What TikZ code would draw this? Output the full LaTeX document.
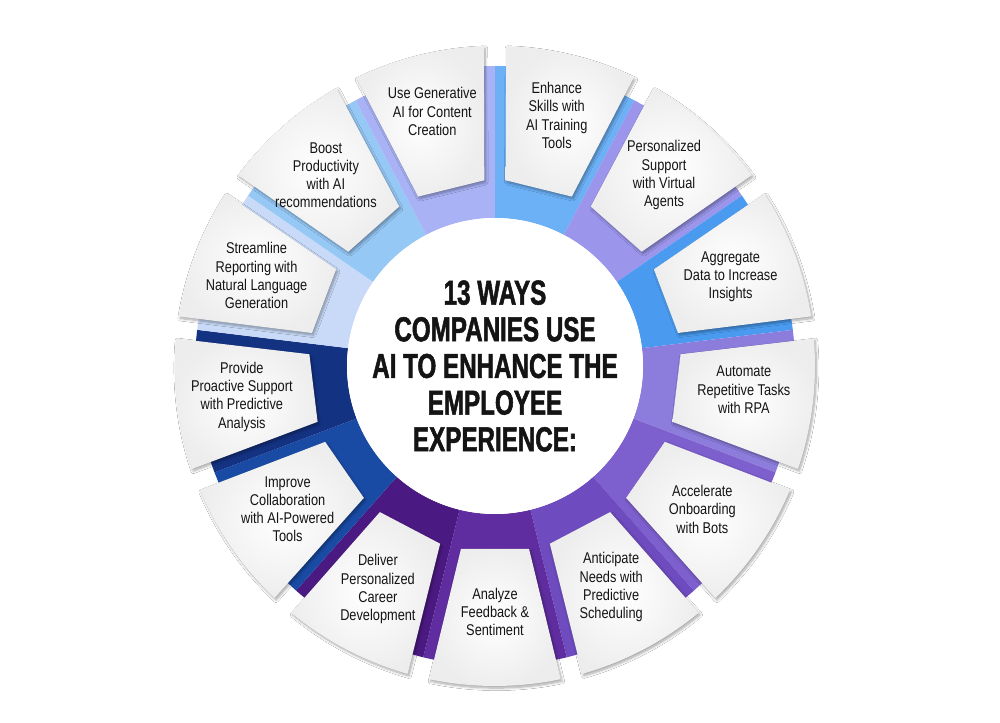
\documentclass[tikz,border=0pt]{standalone}
\usepackage{fontspec}
\setmainfont{Liberation Sans}[FakeStretch=0.82]
\newfontfamily\titlefont{Liberation Sans}[FakeStretch=0.7, BoldFeatures={FakeBold=1.5}]
\usetikzlibrary{shadows, shadows.blur, positioning}

\definecolor{cEnhance}{HTML}{6CB0F5}
\definecolor{cPersonal}{HTML}{9B96EB}
\definecolor{cAggregate}{HTML}{4A9BF0}
\definecolor{cAutomate}{HTML}{8C7DDC}
\definecolor{cOnboard}{HTML}{7D5FCD}
\definecolor{cAnticipate}{HTML}{6E4BBE}
\definecolor{cAnalyze}{HTML}{5F2DA0}
\definecolor{cCareer}{HTML}{4B1982}
\definecolor{cCollab}{HTML}{194BA5}
\definecolor{cProactive}{HTML}{143282}
\definecolor{cStreamline}{HTML}{C8DAF7}
\definecolor{cBoost}{HTML}{96C8F5}
\definecolor{cGenerative}{HTML}{A8B2F5}

\tikzset{
  card/.style={inner color=white, outer color=black!7,
    blur shadow={shadow xshift=1.2pt, shadow yshift=-1.8pt, shadow blur steps=8, shadow opacity=35}},
  cardtext/.style={align=center, font=\fontsize{13.3}{15.6}\selectfont, text=black!92},
  titletext/.style={align=center, font=\titlefont\bfseries\fontsize{29.5}{31.3}\selectfont, text=black!92}
}

\begin{document}
\begin{tikzpicture}[x=0.3mm, y=0.3mm]
        \fill[white] (-495,-357) rectangle (505,366);
        \useasboundingbox (-495,-357) rectangle (505,366);
        % coloured ring
        \foreach \col [count=\i from 0] in {cEnhance,cPersonal,cAggregate,cAutomate,cOnboard,cAnticipate,cAnalyze,cCareer,cCollab,cProactive,cStreamline,cBoost,cGenerative} {
          \pgfmathsetmacro\a{90-\i*360/13}
          \pgfmathsetmacro\b{\a-360/13}
          \fill[\col] (\a:148) -- (\a:300) arc[start angle=\a, end angle=\b, radius=300] -- (\b:148) arc[start angle=\b, end angle=\a, radius=148] -- cycle;
        }
        % white cards
        \foreach \i in {0,...,12} {
          \pgfmathsetmacro\a{90-\i*360/13}
          \pgfmathsetmacro\b{\a-360/13}
          \shade[card] ({\a-3.3}:186) -- ({\a-2}:320) arc[start angle=\a-2, end angle=\b+2, radius=320] -- ({\b+3.3}:186) -- cycle;
        }
        \fill[white] (0,0) circle[radius=148];
        \node[titletext] (title) at (0,0) {13 WAYS\\COMPANIES USE\\AI TO ENHANCE THE\\EMPLOYEE\\EXPERIENCE:};
        \node[cardtext] (enhance) at (76.15:258) {Enhance\\Skills with\\AI Training\\Tools};
        \node[cardtext] (personal) at (48.46:255) {Personalized\\Support\\with Virtual\\Agents};
        \node[cardtext] (aggregate) at (20.77:252) {Aggregate\\Data to Increase\\Insights};
        \node[cardtext] (automate) at (-5.5:250) {Automate\\Repetitive Tasks\\with RPA};
        \node[cardtext] (onboard) at (-34.62:252) {Accelerate\\Onboarding\\with Bots};
        \node[cardtext] (anticipate) at (-62.31:250) {Anticipate\\Needs with\\Predictive\\Scheduling};
        \node[cardtext] (analyze) at (-90:246) {Analyze\\Feedback \&\\Sentiment};
        \node[cardtext] (career) at (-117.69:252) {Deliver\\Personalized\\Career\\Development};
        \node[cardtext] (collab) at (-145.38:252) {Improve\\Collaboration\\with AI-Powered\\Tools};
        \node[cardtext] (proactive) at (-173.08:255) {Provide\\Proactive Support\\with Predictive\\Analysis};
        \node[cardtext] (streamline) at (159.23:255) {Streamline\\Reporting with\\Natural Language\\Generation};
        \node[cardtext] (boost) at (131.54:255) {Boost\\Productivity\\with AI\\recommendations};
        \node[cardtext] (generative) at (103.85:262) {Use Generative\\AI for Content\\Creation};
\end{tikzpicture}
\end{document}
